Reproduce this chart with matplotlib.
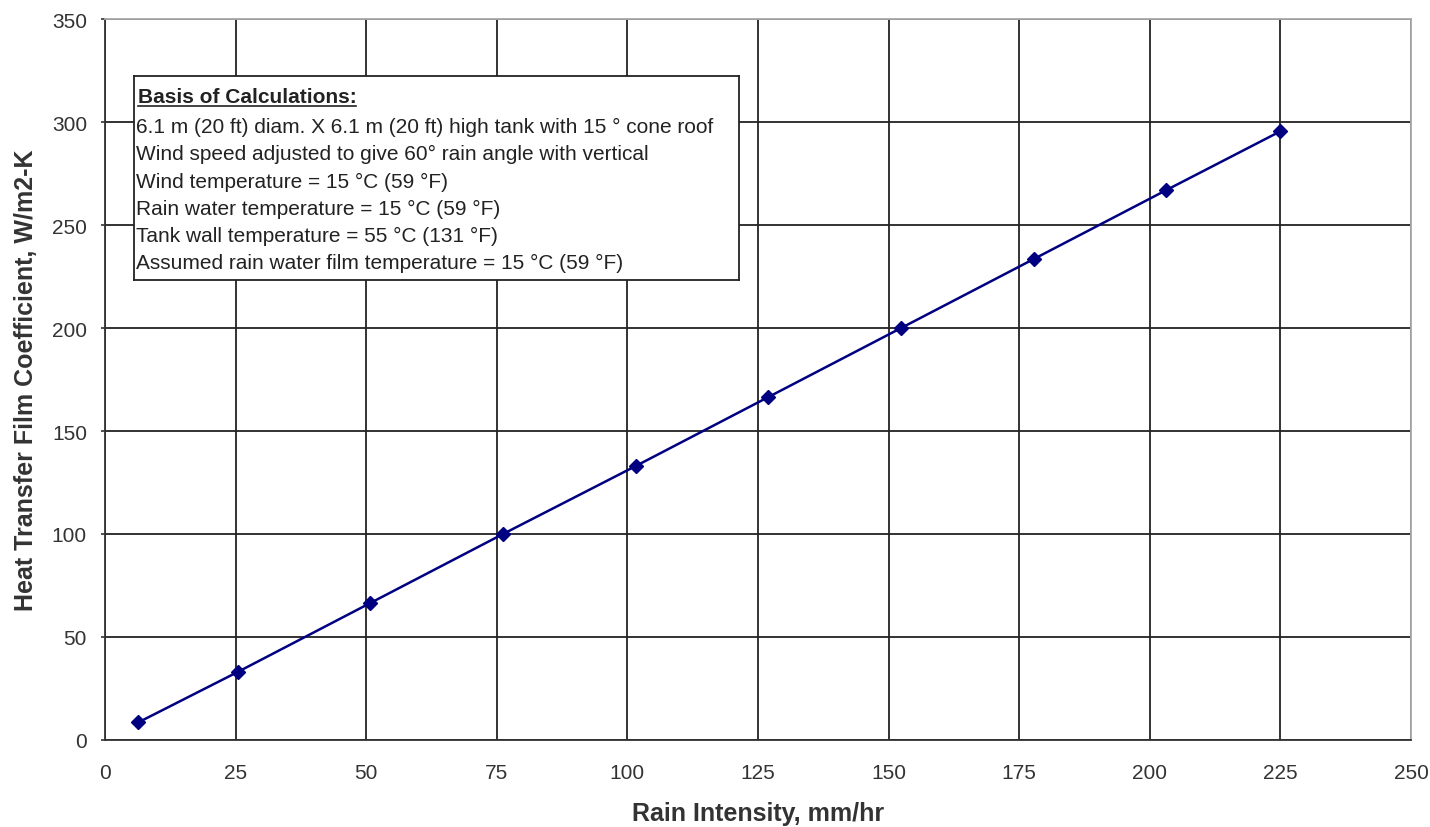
import numpy as np
import matplotlib.pyplot as plt

plt.rcParams['font.family'] = ['Liberation Sans', 'DejaVu Sans']

# rain intensity (mm/hr) and heat transfer film coefficient (W/m2-K)
rain = [6.35, 25.4, 50.8, 76.2, 101.6, 127.0, 152.4, 177.8, 203.2, 225.0]
coef = [8.5, 33.0, 66.5, 100.0, 133.0, 166.5, 200.0, 233.5, 267.0, 295.5]

xticks = [0, 25, 50, 75, 100, 125, 150, 175, 200, 225, 250]
yticks = [0, 50, 100, 150, 200, 250, 300, 350]

box_title = 'Basis of Calculations:'
box_lines = [
    '6.1 m (20 ft) diam. X 6.1 m (20 ft) high tank with 15 \u00b0 cone roof',
    'Wind speed adjusted to give 60\u00b0 rain angle with vertical',
    'Wind temperature = 15 \u00b0C (59 \u00b0F)',
    'Rain water temperature = 15 \u00b0C (59 \u00b0F)',
    'Tank wall temperature = 55 \u00b0C (131 \u00b0F)',
    'Assumed rain water film temperature = 15 \u00b0C (59 \u00b0F)',
]

fig = plt.figure(figsize=(14.3, 8.28), dpi=100)
ax = fig.add_axes([0.0734, 0.1051, 0.9133, 0.8707])

ax.plot(rain, coef, color='#000080', lw=1.8, marker='D', ms=7, zorder=3)

ax.set_xlim(0, 250)
ax.set_ylim(0, 350)
ax.set_xticks(xticks)
ax.set_yticks(yticks)
ax.grid(True, color='#222222', lw=1.3)
ax.tick_params(axis='x', labelsize=15, colors='#333333', length=0, pad=16.5)
ax.tick_params(axis='y', labelsize=15, colors='#333333', length=3, width=1.2, pad=10)
for s in ['left', 'bottom']:
    ax.spines[s].set_color('#333333')
    ax.spines[s].set_linewidth(1.3)
for s in ['top', 'right']:
    ax.spines[s].set_color('#aaaaaa')
    ax.spines[s].set_linewidth(1.3)

ax.set_xlabel('Rain Intensity, mm/hr', fontsize=18, fontweight='bold',
              color='#333333', labelpad=14)
ax.set_ylabel('Heat Transfer Film Coefficient, W/m2-K', fontsize=18,
              fontweight='bold', color='#333333', labelpad=10)

# note box
bx = ax.inset_axes([0.0222, 0.638, 0.4633, 0.283])
bx.set_xticks([])
bx.set_yticks([])
bx.set_facecolor('white')
bx.set_xlim(0, 1)
bx.set_ylim(0, 1)
for s in bx.spines.values():
    s.set_color('#222222')
    s.set_linewidth(1.3)
t = bx.text(0.006, 0.90, box_title, fontsize=15, fontweight='bold',
            color='#222222', va='center', ha='left')
for i, line in enumerate(box_lines):
    bx.text(0.004, 0.752 - i * 0.1333, line, fontsize=15, color='#222222',
            va='center', ha='left')

# underline the title
fig.canvas.draw()
bb = t.get_window_extent().transformed(bx.transAxes.inverted())
bx.plot([bb.x0, bb.x1], [0.852, 0.852], color='#222222', lw=1.2)

fig.savefig('out.png', dpi=100)
